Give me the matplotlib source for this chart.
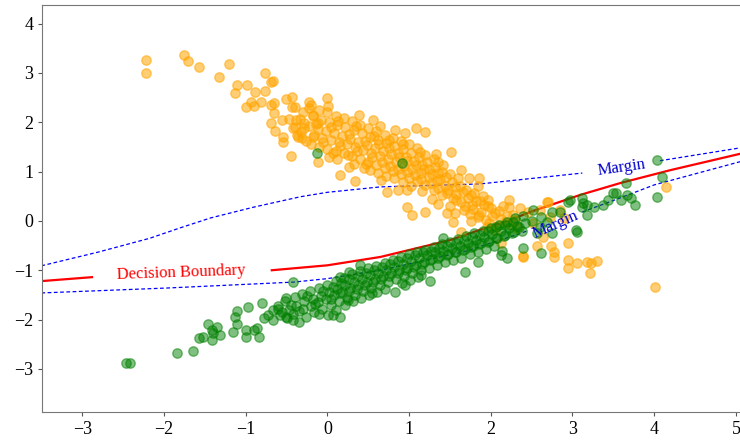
import numpy as np
import matplotlib
matplotlib.use("Agg")
import matplotlib.pyplot as plt

plt.rcParams['font.family'] = ['Liberation Serif', 'DejaVu Serif']

# 주황 클래스 - 위쪽 흩어진 점들
orange_sparse = [(-2.22, 3.27), (-2.22, 3.0), (-1.75, 3.37), (-1.71, 3.25), (-1.57, 3.13),
                 (-1.33, 2.92), (-1.2, 3.18), (-1.11, 2.75), (-1.13, 2.6), (-0.98, 2.75),
                 (-0.88, 2.62), (-0.76, 3.0), (-0.76, 2.63), (-0.69, 2.82), (-0.66, 2.84),
                 (-0.99, 2.3), (-0.93, 2.42), (-0.9, 2.32), (-0.81, 2.42), (-0.69, 2.34),
                 (-0.65, 2.4), (-0.65, 2.19), (-0.69, 1.98), (-0.64, 1.83), (-0.56, 2.05),
                 (-0.51, 2.47), (-0.43, 2.52), (-0.43, 2.3), (-0.47, 2.07), (-0.54, 1.71),
                 (-0.54, 1.6), (-0.45, 1.32), (-0.39, 1.91), (-0.37, 1.74), (-0.33, 2.07),
                 (-0.29, 1.89), (-0.31, 1.68), (-0.23, 2.42), (-0.23, 2.29), (-0.17, 2.15),
                 (-0.17, 1.71), (-0.12, 1.2), (-0.01, 2.49), (0.01, 2.32), (-0.11, 1.98),
                 (0.16, 0.93), (0.34, 0.8), (0.39, 2.15), (0.65, 1.93), (0.83, 1.85)]

# 주황 클래스 - 밀집 영역
orange_core = [(-0.4, 2.3), (-0.38, 2.05), (-0.42, 1.88), (-0.36, 1.7),
               (-0.3, 2.2), (-0.28, 1.98), (-0.32, 1.8), (-0.26, 1.62),
               (-0.2, 2.35), (-0.18, 2.12), (-0.22, 1.92), (-0.16, 1.75), (-0.2, 1.55),
               (-0.1, 2.25), (-0.08, 2.05), (-0.12, 1.86), (-0.06, 1.68), (-0.1, 1.5),
               (0.0, 2.2), (0.02, 2.0), (-0.02, 1.82), (0.04, 1.64), (0.0, 1.45), (0.02, 1.3),
               (0.1, 2.12), (0.12, 1.95), (0.08, 1.78), (0.14, 1.6), (0.1, 1.42), (0.12, 1.25),
               (0.2, 2.08), (0.22, 1.9), (0.18, 1.72), (0.24, 1.55), (0.2, 1.38), (0.26, 1.1),
               (0.3, 2.02), (0.32, 1.84), (0.28, 1.66), (0.34, 1.5), (0.3, 1.32), (0.32, 1.15),
               (0.4, 1.95), (0.42, 1.78), (0.38, 1.6), (0.44, 1.44), (0.4, 1.26), (0.45, 1.08),
               (0.5, 1.88), (0.52, 1.7), (0.48, 1.54), (0.54, 1.38), (0.5, 1.2), (0.52, 1.04), (0.56, 2.05),
               (0.6, 1.82), (0.62, 1.64), (0.58, 1.48), (0.64, 1.32), (0.6, 1.14), (0.62, 0.98),
               (0.7, 1.75), (0.72, 1.58), (0.68, 1.42), (0.74, 1.26), (0.7, 1.08), (0.73, 0.59), (0.72, 0.92),
               (0.8, 1.68), (0.82, 1.52), (0.78, 1.36), (0.84, 1.2), (0.8, 1.02), (0.86, 0.63), (0.82, 0.86),
               (0.9, 1.62), (0.92, 1.45), (0.88, 1.3), (0.94, 1.12), (0.9, 0.96), (0.95, 1.78), (0.93, 0.78),
               (1.0, 1.55), (1.02, 1.38), (0.98, 1.22), (1.04, 1.05), (1.0, 0.88), (0.98, 0.28), (1.02, 0.7),
               (1.1, 1.48), (1.12, 1.3), (1.08, 1.14), (1.14, 0.98), (1.1, 0.8), (1.09, 1.89), (1.04, 0.12),
               (1.2, 1.34), (1.22, 1.2), (1.18, 1.05), (1.24, 0.9), (1.2, 0.72), (1.2, 1.81), (1.2, 0.18),
               (1.3, 1.26), (1.32, 1.1), (1.28, 0.95), (1.34, 0.8), (1.3, 0.62), (1.28, 0.45),
               (1.36, 1.2), (1.42, 1.14), (1.4, 1.0), (1.38, 0.85), (1.44, 0.7), (1.4, 0.52),
               (1.51, 1.4), (1.5, 0.95), (1.52, 0.78), (1.48, 0.62), (1.54, 0.46), (1.47, 0.16), (1.5, 0.3),
               (1.63, 1.03), (1.6, 0.86), (1.62, 0.7), (1.58, 0.54), (1.64, 0.38), (1.54, -0.02),
               (1.73, 0.87), (1.7, 0.62), (1.72, 0.46), (1.68, 0.3), (1.74, 0.14), (1.63, -0.22),
               (1.85, 0.87), (1.8, 0.56), (1.82, 0.4), (1.78, 0.24), (1.84, 0.08), (1.84, 0.7),
               (1.9, 0.5), (1.92, 0.33), (1.88, 0.18), (1.94, 0.02),
               (1.97, 0.43), (2.0, 0.26), (2.02, 0.1), (1.98, -0.05),
               (2.1, 0.2), (2.12, 0.04), (2.08, -0.1), (2.12, -0.45),
               (2.22, 0.43), (2.22, 0.28), (2.2, 0.1), (2.22, -0.06),
               (2.36, 0.26), (2.3, 0.02), (2.32, -0.14)]

# 주황 밀집 영역 사이를 메우는 점들
orange_fill = [(0.05, 1.9), (0.15, 1.52), (0.27, 1.77), (0.36, 1.41), (0.46, 1.63), (0.55, 1.29),
               (0.63, 1.55), (0.67, 1.2), (0.76, 1.47), (0.77, 1.11), (0.86, 1.38), (0.87, 1.05),
               (0.96, 1.3), (0.97, 0.99), (1.06, 1.21), (1.07, 0.93), (1.16, 1.14), (1.15, 0.84),
               (1.25, 1.06), (1.27, 0.76), (1.35, 0.98), (1.36, 0.66), (1.45, 0.9), (1.46, 0.57),
               (1.56, 0.68), (1.57, 0.42), (1.66, 0.58), (1.67, 0.22), (1.76, 0.52), (1.77, 0.33),
               (1.87, 0.41), (1.86, 0.12), (1.96, 0.31), (2.05, 0.16), (2.15, 0.3), (2.17, -0.02),
               (2.27, 0.12), (0.57, 1.72), (0.66, 0.83), (0.47, 1.16), (0.25, 1.33), (-0.05, 1.6),
               (0.07, 1.37), (-0.14, 1.96), (0.13, 2.03), (0.35, 1.93), (0.76, 1.65), (0.93, 1.55),
               (1.13, 1.4), (1.33, 1.36), (0.97, 0.62), (1.16, 0.6), (1.35, 0.34), (1.56, 0.17),
               (1.76, 0.0), (1.95, -0.12), (2.05, -0.18)]

# 주황 클래스 - 오른쪽 꼬리/이상치
orange_tail = [(2.46, 0.18), (2.6, 0.22), (2.7, 0.39), (2.73, 0.08), (2.89, 0.06), (2.64, -0.32),
               (2.77, -0.63), (2.4, -0.73), (2.39, -0.71), (2.95, -0.45), (2.74, -0.51),
               (2.95, -0.79), (3.05, -0.85), (2.94, -0.95), (3.18, -0.83), (3.23, -0.85),
               (3.3, -0.81), (3.21, -1.05), (4.01, -1.34), (2.77, -0.73), (4.15, 0.69),
               (2.69, 0.39), (2.85, 0.22), (2.52, -0.05), (2.57, -0.5)]

# 초록 클래스 - 왼쪽 아래 흩어진 점들
green_sparse = [(-2.47, -2.88), (-2.41, -2.88), (-1.84, -2.68), (-1.64, -2.63), (-1.57, -2.37),
                (-1.52, -2.35), (-1.46, -2.09), (-1.41, -2.21), (-1.4, -2.27), (-1.41, -2.41),
                (-1.31, -2.31), (-1.35, -2.15), (-1.15, -2.25), (-1.13, -1.95), (-1.1, -1.83),
                (-1.1, -2.08), (-0.97, -1.74), (-1.0, -2.21), (-0.99, -2.35), (-0.9, -2.21),
                (-0.84, -2.35), (-0.86, -2.17), (-0.8, -1.66), (-0.78, -1.97), (-0.73, -1.91),
                (-0.67, -1.8), (-0.61, -1.78), (-0.55, -1.85), (-0.66, -2.0), (-0.51, -1.56),
                (-0.49, -1.97), (-0.42, -2.01), (-0.35, -2.05), (-0.42, -1.24), (-0.13, 1.38),
                (0.91, 1.18), (0.07, -1.91), (0.16, -1.95), (0.26, -1.03), (0.16, -1.13)]

# 초록 클래스 - 밀집 띠
green_core = [(-0.6, -1.72), (-0.58, -1.9), (-0.52, -1.62), (-0.47, -1.8), (-0.5, -1.95),
              (-0.4, -1.55), (-0.38, -1.72), (-0.42, -1.88),
              (-0.31, -1.48), (-0.28, -1.62), (-0.3, -1.78), (-0.26, -1.95),
              (-0.21, -1.42), (-0.18, -1.58), (-0.2, -1.72), (-0.16, -1.85),
              (-0.1, -1.36), (-0.08, -1.52), (-0.12, -1.65), (-0.06, -1.78),
              (0.0, -1.3), (0.02, -1.45), (-0.02, -1.58), (0.04, -1.7), (0.01, -1.9),
              (0.1, -1.22), (0.12, -1.38), (0.08, -1.5), (0.14, -1.62), (0.11, -1.8),
              (0.2, -1.15), (0.22, -1.3), (0.18, -1.44), (0.24, -1.56), (0.21, -1.7),
              (0.3, -1.08), (0.32, -1.24), (0.28, -1.36), (0.34, -1.5), (0.31, -1.62),
              (0.4, -1.02), (0.42, -1.18), (0.38, -1.3), (0.44, -1.42), (0.41, -1.56),
              (0.5, -0.96), (0.52, -1.1), (0.48, -1.24), (0.54, -1.36), (0.51, -1.5),
              (0.6, -0.92), (0.62, -1.05), (0.58, -1.18), (0.64, -1.3), (0.61, -1.44),
              (0.7, -0.85), (0.72, -1.0), (0.68, -1.12), (0.74, -1.24), (0.71, -1.38),
              (0.8, -0.8), (0.82, -0.94), (0.78, -1.06), (0.84, -1.18), (0.83, -1.44),
              (0.9, -0.74), (0.92, -0.88), (0.88, -1.0), (0.94, -1.12), (0.91, -1.26),
              (1.0, -0.68), (1.02, -0.82), (0.98, -0.95), (1.04, -1.06), (1.01, -1.2),
              (1.1, -0.62), (1.12, -0.76), (1.08, -0.9), (1.14, -1.0), (1.11, -1.14),
              (1.2, -0.58), (1.22, -0.7), (1.18, -0.84), (1.24, -0.96), (1.26, -1.22),
              (1.3, -0.52), (1.32, -0.64), (1.28, -0.78), (1.34, -0.9),
              (1.4, -0.46), (1.42, -0.6), (1.38, -0.72), (1.44, -0.84), (1.41, -0.35),
              (1.5, -0.42), (1.52, -0.55), (1.48, -0.68), (1.54, -0.8),
              (1.6, -0.36), (1.62, -0.5), (1.58, -0.62), (1.64, -0.75), (1.69, -1.03),
              (1.7, -0.3), (1.72, -0.44), (1.68, -0.56), (1.74, -0.68),
              (1.8, -0.25), (1.82, -0.38), (1.78, -0.5), (1.84, -0.62), (1.84, -0.83),
              (1.9, -0.2), (1.92, -0.32), (1.88, -0.45), (1.94, -0.56),
              (2.0, -0.14), (2.02, -0.26), (1.98, -0.4), (2.04, -0.5),
              (2.1, -0.08), (2.12, -0.2), (2.08, -0.34), (2.14, -0.6), (2.12, -0.69),
              (2.2, -0.02), (2.22, -0.14), (2.18, -0.28), (2.2, -0.75),
              (2.3, 0.05), (2.32, -0.1), (2.28, -0.22),
              (2.4, 0.1), (2.42, -0.05), (2.38, -0.2), (2.39, -0.55)]

# 초록 띠 사이를 메우는 점들
green_fill = [(-0.45, -1.7), (-0.35, -1.83), (-0.25, -1.52), (-0.15, -1.68), (-0.05, -1.42),
              (0.05, -1.58), (0.07, -1.33), (0.15, -1.47), (0.17, -1.25), (0.26, -1.42),
              (0.27, -1.18), (0.36, -1.37), (0.37, -1.11), (0.46, -1.3), (0.47, -1.05),
              (0.56, -1.24), (0.57, -1.0), (0.66, -1.17), (0.67, -0.93), (0.76, -1.12),
              (0.77, -0.88), (0.86, -1.05), (0.87, -0.82), (0.96, -0.99), (0.97, -0.76),
              (1.06, -0.93), (1.07, -0.7), (1.16, -0.87), (1.17, -0.64), (1.26, -0.8),
              (1.27, -0.6), (1.36, -0.76), (1.37, -0.54), (1.46, -0.7), (1.47, -0.5),
              (1.56, -0.64), (1.57, -0.44), (1.66, -0.58), (1.67, -0.38), (1.76, -0.52),
              (1.77, -0.32), (1.86, -0.46), (1.87, -0.28), (1.96, -0.42), (1.97, -0.2),
              (2.06, -0.35), (2.07, -0.13), (2.16, -0.3), (2.17, -0.08), (2.26, -0.24),
              (2.27, -0.02), (2.35, -0.12), (0.55, -1.47), (0.25, -1.6), (-0.1, -1.88),
              (0.95, -1.3), (1.15, -1.1), (0.4, -0.9)]

# 초록 클래스 - 오른쪽 위 꼬리
green_tail = [(2.52, 0.22), (2.5, 0.0), (2.57, -0.24), (2.61, 0.08), (2.6, -0.12), (2.61, -0.65),
              (2.69, -0.02), (2.75, 0.18), (2.75, -0.24), (2.85, 0.18), (2.95, 0.39),
              (2.97, 0.43), (3.04, -0.18), (3.06, -0.22), (3.12, 0.47), (3.13, 0.37), (3.12, 0.28),
              (3.18, 0.12), (3.18, 0.32), (3.26, 0.28), (3.37, 0.32), (3.43, 0.43), (3.5, 0.57),
              (3.53, 0.57), (3.59, 0.43), (3.65, 0.77), (3.67, 0.53), (3.71, 0.47), (3.77, 0.32),
              (4.04, 0.49), (4.1, 0.89), (4.04, 1.24)]

# 결정경계와 마진 (그림에서 읽은 점)
boundary_left_x = [-3.5, -2.88]
boundary_left_y = [-1.22, -1.14]
boundary_right_x = [-0.68, 0.0, 0.65, 1.5, 1.87, 2.24, 2.48, 3.1, 3.59, 4.2, 5.05]
boundary_right_y = [-1.0, -0.9, -0.73, -0.39, -0.18, 0.02, 0.18, 0.53, 0.77, 1.03, 1.36]

upper_left_x = [-3.5, -2.8, -2.17, -1.8, -1.43, -0.9, -0.33, 0.0, 0.65, 1.87, 3.12]
upper_left_y = [-0.91, -0.63, -0.35, -0.14, 0.06, 0.28, 0.49, 0.58, 0.69, 0.75, 0.97]
upper_right_x = [4.07, 5.05]
upper_right_y = [1.22, 1.48]

lower_left_x = [-3.5, -1.96, -0.41, 0.0, 0.65, 1.66, 2.28, 2.45]
lower_left_y = [-1.46, -1.36, -1.24, -1.17, -1.0, -0.63, -0.3, -0.2]
lower_right_x = [3.12, 3.59, 4.0, 5.05]
lower_right_y = [0.18, 0.47, 0.73, 1.2]

fig = plt.figure(figsize=(7.4, 4.4), dpi=100)
ax = fig.add_axes([0.057, 0.064, 0.943, 0.925])

# 선 먼저 (점이 위에 겹쳐진다)
ax.plot(boundary_left_x, boundary_left_y, color='red', lw=1.6, zorder=1)
ax.plot(boundary_right_x, boundary_right_y, color='red', lw=1.6, zorder=1)
dash = (0, (3, 2))
for xs, ys in [(upper_left_x, upper_left_y), (upper_right_x, upper_right_y),
               (lower_left_x, lower_left_y), (lower_right_x, lower_right_y)]:
    ax.plot(xs, ys, color='blue', lw=0.9, linestyle=dash, zorder=1)

orange = np.array(orange_sparse + orange_core + orange_fill + orange_tail)
green = np.array(green_sparse + green_core + green_fill + green_tail)
ax.scatter(orange[:, 0], orange[:, 1], s=46, color='orange', alpha=0.55, zorder=2)
ax.scatter(green[:, 0], green[:, 1], s=46, color='green', alpha=0.5, zorder=3)

ax.text(-1.79, -1.05, 'Decision Boundary', color='red', fontsize=12,
        ha='center', va='center', rotation=2)
ax.text(3.6, 1.08, 'Margin', color='mediumblue', fontsize=12,
        ha='center', va='center', rotation=8)
ax.text(2.79, -0.07, 'Margin', color='mediumblue', fontsize=12,
        ha='center', va='center', rotation=24)

ax.set_xlim(-3.49, 5.05)
ax.set_ylim(-3.87, 4.38)
ax.set_xticks(range(-3, 6))
ax.set_yticks(range(-3, 5))
ax.tick_params(labelsize=13, length=3, color='#555555')
for side in ['left', 'bottom', 'top']:
    ax.spines[side].set_color('#777777')
ax.spines['right'].set_visible(False)

plt.savefig('out.png', dpi=100)
